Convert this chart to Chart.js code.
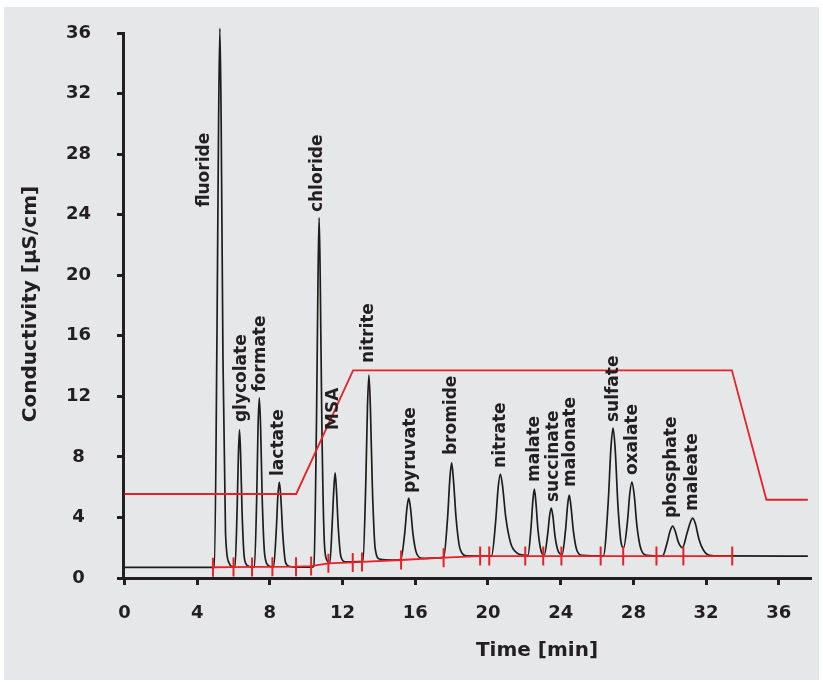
<!DOCTYPE html>
<html>
<head>
<meta charset="utf-8">
<title>Anion chromatogram</title>
<script src="https://cdn.jsdelivr.net/npm/chart.js@4.4.0/dist/chart.umd.min.js"></script>
<style>
  html, body { margin: 0; padding: 0; background: #fff; }
  canvas { display: block; }
</style>
</head>
<body>
<canvas id="chromatogram" width="823" height="682"></canvas>
<script>
// Conductivity trace (time in min, signal in µS/cm)
const traceTime = [
    0, 4.95, 5.09, 5.18, 5.25, 5.32, 5.42, 5.56, 5.75, 5.95,
    6.08, 6.2, 6.27, 6.33, 6.39, 6.47, 6.6, 6.8, 7.0,
    7.15, 7.28, 7.35, 7.42, 7.49, 7.58, 7.72, 7.95,
    8.2, 8.35, 8.44, 8.52, 8.6, 8.71, 8.87, 9.1, 9.4, 10.3,
    10.42, 10.57, 10.65, 10.71, 10.77, 10.86, 11.0, 11.15,
    11.3, 11.43, 11.52, 11.59, 11.66, 11.76, 11.91, 12.15, 12.9,
    13.12, 13.28, 13.37, 13.45, 13.53, 13.64, 13.8, 14.05, 14.8,
    15.2, 15.42, 15.54, 15.64, 15.74, 15.88, 16.08, 16.4, 17.3,
    17.56, 17.78, 17.9, 18.0, 18.1, 18.25, 18.47, 18.85, 19.9,
    20.2, 20.42, 20.56, 20.68, 20.8, 20.98, 21.25, 21.6, 21.95,
    22.2, 22.37, 22.47, 22.55, 22.63, 22.75, 22.92,
    23.1, 23.28, 23.39, 23.48, 23.57, 23.69, 23.87,
    24.08, 24.27, 24.38, 24.47, 24.56, 24.7, 24.9, 25.2,
    26.35, 26.62, 26.76, 26.88, 27.0, 27.15, 27.33,
    27.46, 27.68, 27.8, 27.92, 28.04, 28.2, 28.42, 28.75,
    29.6, 29.85, 30.02, 30.16, 30.3, 30.48,
    30.7, 30.95, 31.11, 31.26, 31.41, 31.6, 31.85, 32.2, 32.8, 37.6
];
const traceSignal = [
    0.70, 0.70, 16.0, 30.2, 36.3, 30.2, 14.5, 3.0, 1.0, 0.74,
    0.72, 4.6, 8.2, 9.78, 8.2, 4.4, 1.3, 0.8, 0.73,
    0.72, 5.5, 10.0, 11.9, 10.0, 5.2, 1.5, 0.8,
    0.72, 3.1, 5.4, 6.34, 5.4, 2.9, 1.0, 0.76, 0.71, 0.72,
    0.78, 10.8, 19.9, 23.8, 19.9, 10.2, 2.3, 1.15,
    1.0, 3.6, 5.9, 6.94, 5.9, 3.4, 1.4, 1.07, 1.08,
    1.1, 6.4, 11.3, 13.4, 11.3, 6.0, 1.9, 1.25, 1.19,
    1.22, 2.97, 4.6, 5.28, 4.6, 2.85, 1.6, 1.3, 1.33,
    1.36, 4.0, 6.5, 7.6, 6.5, 3.9, 1.9, 1.46, 1.45,
    1.46, 3.7, 5.95, 6.87, 6.1, 4.0, 2.3, 1.65, 1.52,
    1.49, 3.35, 5.1, 5.88, 5.1, 3.2, 1.8,
    1.52, 2.85, 4.1, 4.62, 4.1, 2.75, 1.75,
    1.55, 3.2, 4.8, 5.48, 4.8, 3.1, 1.8, 1.5,
    1.46, 5.1, 8.5, 9.9, 8.5, 4.8, 2.3,
    2.0, 3.8, 5.55, 6.34, 5.55, 3.4, 1.9, 1.5,
    1.45, 2.3, 3.1, 3.43, 3.1, 2.35,
    2.0, 2.95, 3.6, 3.96, 3.6, 2.6, 1.85, 1.5, 1.46, 1.45
];

// Eluent gradient profile (red)
const gradientTime = [0, 9.45, 12.58, 33.42, 35.32, 37.6];
const gradientLevel = [5.55, 5.55, 13.72, 13.72, 5.17, 5.17];

// Integration marks on the baseline (red ticks)
const markTime = [4.87, 6.0, 7.02, 8.14, 9.44, 10.27, 11.22, 12.56, 13.07, 15.22, 17.56,
    19.57, 20.07, 22.05, 23.04, 24.04, 26.2, 27.44, 29.27, 30.75, 33.44];
const markLevel = [0.71, 0.72, 0.73, 0.74, 0.75, 0.79, 0.97, 1.03, 1.06, 1.19, 1.34,
    1.45, 1.45, 1.45, 1.45, 1.45, 1.45, 1.45, 1.45, 1.45, 1.45];

// Peak names and where their text starts
const peakNames = ['fluoride', 'glycolate', 'formate', 'lactate', 'chloride', 'MSA', 'nitrite',
    'pyruvate', 'bromide', 'nitrate', 'malate', 'succinate', 'malonate', 'sulfate', 'oxalate',
    'phosphate', 'maleate'];
const labelTime = [4.41, 6.44, 7.48, 8.49, 10.63, 11.53, 13.45, 15.75, 18.0, 20.68, 22.55,
    23.59, 24.52, 26.9, 27.95, 30.08, 31.26];
const labelLevel = [24.5, 10.3, 12.3, 6.74, 24.17, 9.78, 14.2, 5.61, 8.12, 7.27, 6.34,
    5.02, 6.01, 10.3, 6.8, 3.96, 4.43];

// Axis ticks
const timeTicks = [0, 4, 8, 12, 16, 20, 24, 28, 32, 36];
const conductivityTicks = [0, 4, 8, 12, 16, 20, 24, 28, 32, 36];

const colors = {
    ink: '#231f20',
    trace: '#1d1d1b',
    red: '#e52228',
    panel: '#e6e7e9'
};
const fontFamily = '"DejaVu Sans", sans-serif';

const toPoints = (xs, ys) => xs.map((x, i) => ({ x: x, y: ys[i] }));

// Grey panel behind everything
const panelPlugin = {
    id: 'panel',
    beforeDraw(chart) {
        const ctx = chart.ctx;
        ctx.save();
        ctx.fillStyle = '#ffffff';
        ctx.fillRect(0, 0, chart.width, chart.height);
        ctx.fillStyle = colors.panel;
        ctx.fillRect(4, 7, 815, 673);
        ctx.restore();
    }
};

// Peak names and axis titles
const textPlugin = {
    id: 'peakText',
    afterDatasetsDraw(chart) {
        const ctx = chart.ctx;
        const xs = chart.scales.x;
        const ys = chart.scales.y;
        ctx.save();
        ctx.fillStyle = colors.ink;
        ctx.font = 'bold 17px ' + fontFamily;
        ctx.textAlign = 'left';
        ctx.textBaseline = 'middle';
        peakNames.forEach((name, i) => {
            ctx.save();
            ctx.translate(xs.getPixelForValue(labelTime[i]), ys.getPixelForValue(labelLevel[i]));
            ctx.rotate(-Math.PI / 2);
            ctx.fillText(name, 0, 0);
            ctx.restore();
        });

        ctx.font = 'bold 20px ' + fontFamily;
        ctx.textAlign = 'center';
        ctx.fillText('Time [min]', 537, 651);
        ctx.translate(31, 304);
        ctx.rotate(-Math.PI / 2);
        ctx.fillText('Conductivity [µS/cm]', 0, 0);
        ctx.restore();
    }
};

const tickFont = { family: fontFamily, size: 18, weight: 'bold' };

new Chart(document.getElementById('chromatogram'), {
    type: 'line',
    data: {
        datasets: [
            {
                label: 'Integration',
                data: toPoints(markTime, markLevel),
                borderColor: colors.red,
                borderWidth: 1.8,
                pointStyle: 'line',
                pointRotation: 90,
                pointRadius: 9.5,
                pointBorderWidth: 2,
                pointBorderColor: colors.red,
                tension: 0
            },
            {
                label: 'Eluent',
                data: toPoints(gradientTime, gradientLevel),
                borderColor: colors.red,
                borderWidth: 1.8,
                pointRadius: 0,
                tension: 0
            },
            {
                label: 'Conductivity',
                data: toPoints(traceTime, traceSignal),
                borderColor: colors.trace,
                borderWidth: 1.7,
                pointRadius: 0,
                cubicInterpolationMode: 'monotone',
                clip: false
            }
        ]
    },
    options: {
        responsive: false,
        animation: false,
        layout: {
            padding: { left: 0, top: 33, right: 8.5, bottom: 0 }
        },
        plugins: {
            legend: { display: false },
            tooltip: { enabled: false }
        },
        scales: {
            x: {
                type: 'linear',
                min: -0.08,
                max: 37.8,
                afterBuildTicks: (scale) => {
                    scale.ticks = timeTicks.map(v => ({ value: v }));
                },
                afterFit: (scale) => { scale.height = 104; },
                border: { display: true, color: colors.ink, width: 3 },
                grid: {
                    drawOnChartArea: false,
                    drawTicks: true,
                    tickLength: 7,
                    tickWidth: 3,
                    color: colors.ink
                },
                ticks: {
                    font: tickFont,
                    color: colors.ink,
                    padding: 18,
                    maxRotation: 0
                }
            },
            y: {
                min: 0,
                max: 36,
                afterBuildTicks: (scale) => {
                    scale.ticks = conductivityTicks.map(v => ({ value: v }));
                },
                afterFit: (scale) => {
                    scale.width = 123;
                    scale.paddingTop = 0;
                    scale.paddingBottom = 0;
                },
                border: { display: true, color: colors.ink, width: 3 },
                grid: {
                    drawOnChartArea: false,
                    drawTicks: true,
                    tickLength: 6,
                    tickWidth: 3,
                    color: colors.ink
                },
                ticks: {
                    font: tickFont,
                    color: colors.ink,
                    padding: 26,
                    crossAlign: 'center'
                }
            }
        }
    },
    plugins: [panelPlugin, textPlugin]
});
</script>
</body>
</html>
